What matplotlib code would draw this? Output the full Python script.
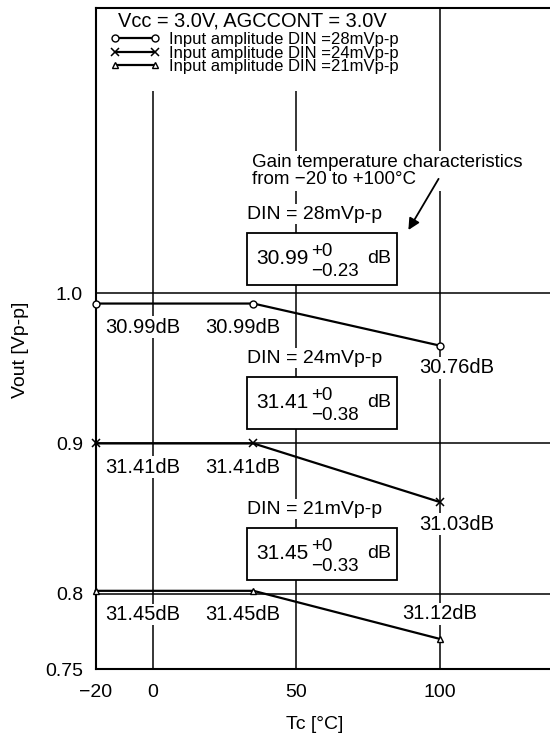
import numpy as np
import matplotlib
matplotlib.use('Agg')
from matplotlib import pyplot as plt
from matplotlib.patches import Rectangle

plt.rcParams['font.family'] = ['Liberation Sans', 'DejaVu Sans']

####
# Data
####
temps = [-20, 35, 100]
vout_28 = [0.993, 0.993, 0.965]
vout_24 = [0.900, 0.900, 0.861]
vout_21 = [0.802, 0.802, 0.770]
gain_28 = ['30.99dB', '30.99dB', '30.76dB']
gain_24 = ['31.41dB', '31.41dB', '31.03dB']
gain_21 = ['31.45dB', '31.45dB', '31.12dB']
series_names = ['Input amplitude DIN =28mVp-p',
                'Input amplitude DIN =24mVp-p',
                'Input amplitude DIN =21mVp-p']
din_labels = ['DIN = 28mVp-p', 'DIN = 24mVp-p', 'DIN = 21mVp-p']
gain_nominal = ['30.99', '31.41', '31.45']
gain_plus = ['+0', '+0', '+0']
gain_minus = ['\u22120.23', '\u22120.38', '\u22120.33']

x_ticks = [-20, 0, 50, 100]
x_ticklabels = ['\u221220', '0', '50', '100']
y_ticks = [0.75, 0.8, 0.9, 1.0]
y_ticklabels = ['0.75', '0.8', '0.9', '1.0']

####
# Figure
####
fig = plt.figure(figsize=(5.5, 7.4), dpi=100)
ax = fig.add_axes([0.1738, 0.0959, 0.837, 0.8933])
ax.set_xlim(-20, 140.4)
ax.set_ylim(0.75, 1.1895)

ax.spines['right'].set_visible(False)
for s in ['left', 'bottom', 'top']:
    ax.spines[s].set_linewidth(1.5)

ax.set_xticks(x_ticks)
ax.set_xticklabels(x_ticklabels)
ax.set_yticks(y_ticks)
ax.set_yticklabels(y_ticklabels)
ax.tick_params(axis='x', length=0, pad=11, labelsize=14)
ax.tick_params(axis='y', length=0, pad=9, labelsize=14)

# grid lines only at the labelled positions
for xv in x_ticks[1:]:
    ax.axvline(xv, color='black', lw=1.1, zorder=1)
for yv in y_ticks[1:]:
    ax.axhline(yv, color='black', lw=1.1, zorder=1)

ax.set_xlabel('Tc [\u00b0C]', fontsize=14)
ax.xaxis.set_label_coords(0.475, -0.071)
ax.set_ylabel('Vout [Vp-p]', fontsize=14)
ax.yaxis.set_label_coords(-0.145, 0.483)

# series
l28, = ax.plot(temps, vout_28, color='black', lw=1.6, marker='o', ms=5,
               mfc='white', mec='black', mew=1.0, zorder=4, clip_on=False)
l24, = ax.plot(temps, vout_24, color='black', lw=1.6, marker='x', ms=5.5,
               mew=1.1, zorder=4, clip_on=False)
l21, = ax.plot(temps, vout_21, color='black', lw=1.6, marker='^', ms=5,
               mfc='white', mec='black', mew=1.0, zorder=4, clip_on=False)

# dB labels next to each point
wbox = dict(facecolor='white', edgecolor='none', pad=1)
offs = [(34, -17), (-8, -17), (12, -16)]
for vals, labs in [(vout_28, gain_28), (vout_24, gain_24), (vout_21, gain_21)]:
    for i in range(len(temps)):
        dx, dy = offs[i]
        if vals is vout_21 and i == 2:
            dx, dy = (0, 18)
        ax.annotate(labs[i], (temps[i], vals[i]), xytext=(dx, dy),
                    textcoords='offset points', ha='center', va='center',
                    fontsize=14.5, bbox=wbox, zorder=3)

# boxes with gain spread
box_tops = [1.0399, 0.9441, 0.8437]
box_h = 0.0345
box_x0, box_x1 = 32.75, 85.0
for k in range(3):
    top = box_tops[k]
    ax.add_patch(Rectangle((box_x0, top - box_h), box_x1 - box_x0, box_h,
                           facecolor='white', edgecolor='black', lw=1.3, zorder=3))
    yc = top - box_h / 2
    ax.text(box_x0, top + 0.0125, din_labels[k], ha='left', va='center',
            fontsize=14, bbox=wbox, zorder=3)
    ax.annotate(gain_nominal[k], (box_x0, yc), xytext=(7, 0.5),
                textcoords='offset points', ha='left', va='center',
                fontsize=15, zorder=5)
    ax.annotate(gain_plus[k], (box_x0, yc), xytext=(46, 5.5),
                textcoords='offset points', ha='left', va='center',
                fontsize=13.5, zorder=5)
    ax.annotate(gain_minus[k], (box_x0, yc), xytext=(46, -9),
                textcoords='offset points', ha='left', va='center',
                fontsize=13.5, zorder=5)
    ax.annotate('dB', (box_x0, yc), xytext=(86.5, 0.5),
                textcoords='offset points', ha='left', va='center',
                fontsize=14, zorder=5)

# note with arrow
ax.text(34.5, 1.0813, 'Gain temperature characteristics\nfrom \u221220 to +100\u00b0C',
        ha='left', va='center', fontsize=13.5, linespacing=1.0,
        bbox=dict(facecolor='white', edgecolor='none', pad=2), zorder=3)
ax.annotate('', xy=(88.5, 1.0403), xytext=(100, 1.0775),
            arrowprops=dict(arrowstyle='-|>', color='black', lw=1.3,
                            mutation_scale=17), zorder=5)

# white area behind the legend block
ax.add_patch(Rectangle((0, 0.875), 0.72, 0.125, transform=ax.transAxes,
                       facecolor='white', edgecolor='none', zorder=2))
ax.text(0.048, 0.980, 'Vcc = 3.0V, AGCCONT = 3.0V', transform=ax.transAxes,
        ha='left', va='center', fontsize=14.4, zorder=6)
leg = ax.legend([l28, l24, l21], series_names, loc='upper left',
                bbox_to_anchor=(0.032, 0.9637), borderaxespad=0, borderpad=0,
                frameon=False, numpoints=2, handlelength=3.0,
                handletextpad=0.5, labelspacing=-0.08, fontsize=12)
leg.set_zorder(6)

fig.savefig('out.png', dpi=100)
